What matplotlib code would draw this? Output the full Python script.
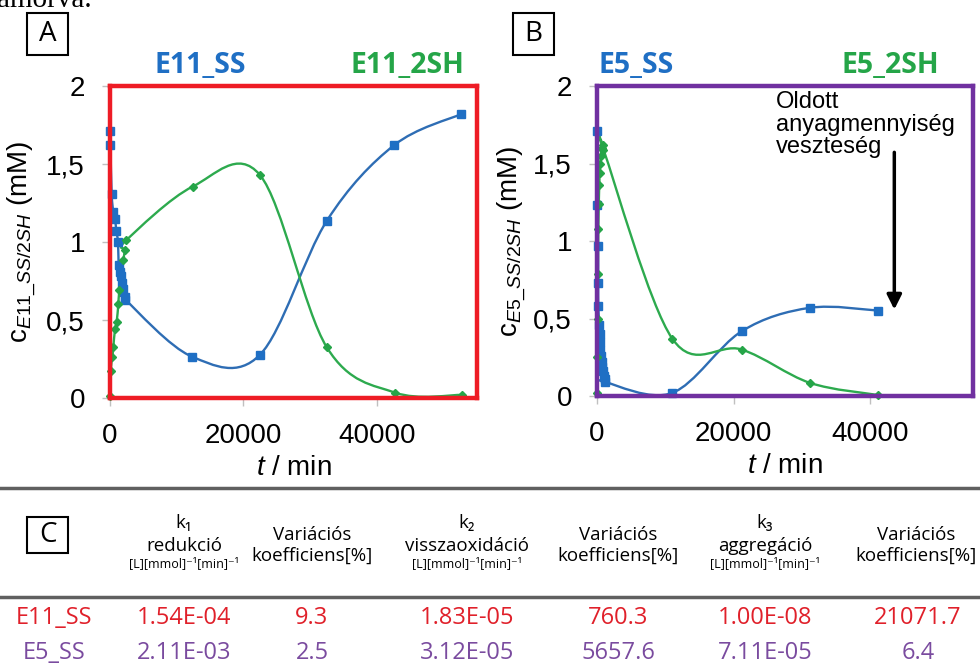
import numpy as np
import matplotlib
matplotlib.use('Agg')
import matplotlib.pyplot as plt
from matplotlib.path import Path
from matplotlib.patches import PathPatch, Rectangle
from matplotlib.lines import Line2D

# panel A: E11 (time in min, concentration in mM)
e11_ss_t = [0, 60, 250, 500, 750, 950, 1200, 1300, 1500, 1650, 1800, 2000, 2200, 2300,
            12290, 22450, 32480, 42560, 52630]
e11_ss_c = [1.71, 1.62, 1.31, 1.19, 1.15, 1.07, 1.00, 0.85, 0.81, 0.78, 0.74, 0.70, 0.65, 0.63,
            0.265, 0.276, 1.135, 1.62, 1.82]
e11_2sh_t = [0, 100, 350, 500, 750, 1000, 1250, 1400, 2000, 2250, 2400,
             12380, 22460, 32490, 42760, 52800]
e11_2sh_c = [0.01, 0.175, 0.26, 0.33, 0.44, 0.49, 0.60, 0.69, 0.885, 0.95, 1.01,
             1.355, 1.43, 0.325, 0.034, 0.02]

# panel B: E5
e5_ss_t = [0, 20, 150, 170, 190, 330, 400, 450, 500, 600, 700, 800, 900, 1000, 1100, 1160,
           11010, 21140, 31130, 41160]
e5_ss_c = [1.71, 1.23, 0.97, 0.73, 0.58, 0.46, 0.40, 0.35, 0.30, 0.26, 0.22, 0.19, 0.16, 0.13, 0.11, 0.09,
           0.02, 0.417, 0.569, 0.551]
e5_2sh_t = [0, 40, 80, 120, 200, 260, 330, 400, 480, 560, 700, 850, 950,
            11010, 21140, 31130, 41160]
e5_2sh_c = [0.02, 0.25, 0.5, 0.79, 1.08, 1.24, 1.36, 1.44, 1.50, 1.55, 1.60, 1.62, 1.59,
            0.37, 0.30, 0.085, 0.006]

x_ticks = [0, 20000, 40000]
x_tick_labels = ['0', '20000', '40000']
y_ticks = [0, 0.5, 1, 1.5, 2]
y_tick_labels = ['0', '0,5', '1', '1,5', '2']

# panel C table
row_names = ['E11_SS', 'E5_SS']
k1_values = ['1.54E-04', '2.11E-03']
k1_cv = ['9.3', '2.5']
k2_values = ['1.83E-05', '3.12E-05']
k2_cv = ['760.3', '5657.6']
k3_values = ['1.00E-08', '7.11E-05']
k3_cv = ['21071.7', '6.4']
rate_names = ['k\u2081', 'k\u2082', 'k\u2083']
rate_labels = ['redukció', 'visszaoxidáció', 'aggregáció']
cv_header = 'Variációs\nkoefficiens[%]'
rate_unit = '[L][mmol]\u207b\u00b9[min]\u207b\u00b9'

BLUE_LINE = '#2E6DB4'
BLUE_MARK = '#1F6FC4'
GREEN_LINE = '#2DAA4E'
GREEN_MARK = '#25A548'
RED = '#EE1C25'
PURPLE = '#7030A0'
ROW_RED = '#E0202A'
ROW_PURPLE = '#7A4B9F'

W, H = 980, 666

plt.rcParams['font.family'] = ['Liberation Sans', 'DejaVu Sans']
plt.rcParams['mathtext.fontset'] = 'custom'
plt.rcParams['mathtext.rm'] = 'Liberation Sans'
plt.rcParams['mathtext.it'] = 'Liberation Sans:italic'


def fx(px):
    return px / W


def fy(py):
    return 1 - py / H


def smooth_path(x, y):
    # excel-like smoothed line: bezier segments with catmull-rom control points
    pts = np.column_stack([x, y]).astype(float)
    n = len(pts)
    verts = [pts[0]]
    codes = [Path.MOVETO]
    for i in range(n - 1):
        p0 = pts[max(i - 1, 0)]
        p1 = pts[i]
        p2 = pts[i + 1]
        p3 = pts[min(i + 2, n - 1)]
        verts += [p1 + (p2 - p0) / 6, p2 - (p3 - p1) / 6, p2]
        codes += [Path.CURVE4] * 3
    return Path(verts, codes)


def draw_series(ax, t, c, line_color, marker, mark_color, ms):
    ax.add_patch(PathPatch(smooth_path(t, c), fill=False, ec=line_color, lw=1.7, zorder=3))
    ax.plot(t, c, ls='none', marker=marker, ms=ms, mfc=mark_color, mec=mark_color,
            zorder=4, clip_on=False)


def setup_axes(ax, frame_color, ylabel, label_x):
    ax.set_xlim(0, 55000)
    ax.set_ylim(0, 2)
    ax.set_xticks(x_ticks)
    ax.set_xticklabels(x_tick_labels)
    ax.set_yticks(y_ticks)
    ax.set_yticklabels(y_tick_labels)
    for sp in ax.spines.values():
        sp.set_color(frame_color)
        sp.set_linewidth(3.2)
        sp.set_zorder(5)
    ax.tick_params(length=6, width=1, color='#C0C0C0', labelsize=20)
    ax.tick_params(axis='y', pad=12)
    ax.tick_params(axis='x', pad=12)
    ax.set_ylabel(ylabel, fontsize=20)
    ax.yaxis.set_label_coords(label_x, 0.5)
    ax.set_xlabel(r'$\mathit{t}$ / min', fontsize=20, labelpad=4)


def boxed_letter(fig, x0, y0, x1, y1, s, size):
    fig.add_artist(Rectangle((fx(x0), fy(y1)), fx(x1) - fx(x0), fy(y0) - fy(y1),
                             transform=fig.transFigure, fill=False, ec='black', lw=1.5))
    fig.text(fx((x0 + x1) / 2), fy((y0 + y1) / 2), s, fontsize=size, ha='center', va='center',
             family=['Open Sans', 'DejaVu Sans'])


fig = plt.figure(figsize=(W / 100, H / 100), dpi=100)

ax_a = fig.add_axes([fx(110), fy(398), fx(477) - fx(110), fy(86) - fy(398)])
draw_series(ax_a, e11_ss_t, e11_ss_c, BLUE_LINE, 's', BLUE_MARK, 6)
draw_series(ax_a, e11_2sh_t, e11_2sh_c, GREEN_LINE, 'D', GREEN_MARK, 4.5)
setup_axes(ax_a, RED, r'c$_{\mathit{E11\_SS/2SH}}$ (mM)', -0.196)

ax_b = fig.add_axes([fx(597), fy(396), fx(973) - fx(597), fy(86) - fy(396)])
draw_series(ax_b, e5_ss_t, e5_ss_c, BLUE_LINE, 's', BLUE_MARK, 6)
draw_series(ax_b, e5_2sh_t, e5_2sh_c, GREEN_LINE, 'D', GREEN_MARK, 4.5)
setup_axes(ax_b, PURPLE, r'c$_{\mathit{E5\_SS/2SH}}$ (mM)', -0.184)

ax_b.text(26180, 1.97, 'Oldott\nanyagmennyiség\nveszteség', fontsize=17, ha='left', va='top',
          linespacing=1.05)
ax_b.annotate('', xy=(43490, 0.54), xytext=(43490, 1.59),
              arrowprops=dict(arrowstyle='-|>', lw=2.5, color='black', mutation_scale=22))

# series names above the panels
title_font = dict(fontsize=20.5, fontweight='bold', ha='center', va='center', family='Open Sans')
fig.text(fx(200), fy(66), 'E11_SS', color=BLUE_MARK, **title_font)
fig.text(fx(407), fy(66), 'E11_2SH', color=GREEN_MARK, **title_font)
fig.text(fx(636), fy(66), 'E5_SS', color=BLUE_MARK, **title_font)
fig.text(fx(890), fy(66), 'E5_2SH', color=GREEN_MARK, **title_font)

boxed_letter(fig, 27, 13, 68, 55, 'A', 20)
boxed_letter(fig, 513, 13, 554, 55, 'B', 20)
boxed_letter(fig, 27, 517, 68, 553, 'C', 20)

# clipped line of the surrounding document
fig.text(fx(-3), fy(7), 'amorva.', fontsize=21, family='Liberation Serif', ha='left', va='baseline')

# table
for ly in (488, 597):
    fig.add_artist(Line2D([0, 1], [fy(ly), fy(ly)], transform=fig.transFigure,
                          color='#606060', lw=2.5))

head = dict(ha='center', va='center', fontsize=13.5, family=['Open Sans', 'DejaVu Sans'])
rate_cols = [184, 467, 765]
cv_cols = [312, 618, 916]
for cx, name, lab in zip(rate_cols, rate_names, rate_labels):
    fig.text(fx(cx), fy(523), name, **head)
    fig.text(fx(cx), fy(546), lab, **head)
    fig.text(fx(cx), fy(564), rate_unit, ha='center', va='center', fontsize=9,
             family=['Open Sans', 'DejaVu Sans'])
for cx in cv_cols:
    fig.text(fx(cx), fy(545), cv_header, linespacing=1.2, **head)

cell = dict(ha='center', va='center', fontsize=17, family=['Open Sans', 'DejaVu Sans'])
columns = [row_names, k1_values, k1_cv, k2_values, k2_cv, k3_values, k3_cv]
col_x = [54, 184, 312, 467, 618, 765, 918]
for ry, color, r in zip([618, 653], [ROW_RED, ROW_PURPLE], range(2)):
    for cx, col in zip(col_x, columns):
        fig.text(fx(cx), fy(ry), col[r], color=color, **cell)

fig.savefig('out.png', dpi=100)
